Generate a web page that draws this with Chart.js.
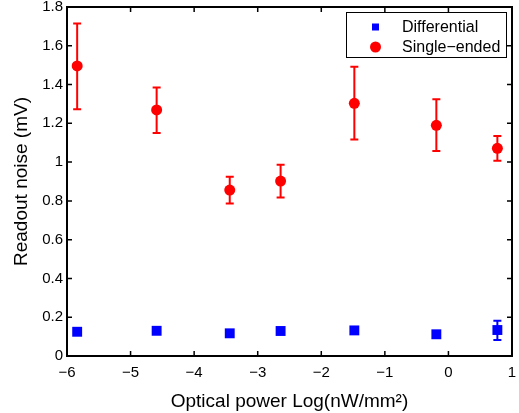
<!DOCTYPE html>
<html>
<head>
<meta charset="utf-8">
<script src="https://cdn.jsdelivr.net/npm/chart.js@4.4.1/dist/chart.umd.min.js"></script>
<style>
  body { margin: 0; background: #fff; }
  #wrap { width: 519px; height: 413px; }
</style>
</head>
<body>
<div id="wrap"><canvas id="myChart" width="519" height="413"></canvas></div>
<script>
// optical power, log(nW/mm^2)
const power = [-5.84, -4.59, -3.44, -2.64, -1.48, -0.19, 0.77];

// readout noise (mV)
const diffNoise = [0.125, 0.130, 0.117, 0.129, 0.132, 0.112, 0.134];
const diffLow   = [0.115, 0.120, 0.107, 0.119, 0.122, 0.102, 0.083];
const diffHigh  = [0.135, 0.140, 0.127, 0.139, 0.142, 0.122, 0.182];

const singleNoise = [1.496, 1.269, 0.856, 0.902, 1.303, 1.190, 1.071];
const singleLow   = [1.272, 1.150, 0.787, 0.818, 1.117, 1.057, 1.007];
const singleHigh  = [1.715, 1.385, 0.925, 0.987, 1.492, 1.324, 1.135];

const xTicks = [-6, -5, -4, -3, -2, -1, 0, 1];
const yTicks = [0, 0.2, 0.4, 0.6, 0.8, 1, 1.2, 1.4, 1.6, 1.8];

const labels = ['Differential', 'Single\u2212ended'];

Chart.defaults.font.family = "'Liberation Sans', Arial, sans-serif";
Chart.defaults.color = '#000';

const toPoints = (xs, ys) => xs.map((x, i) => ({ x: x, y: ys[i] }));
const minus = v => String(v).replace('-', '\u2212');

const errorBars = {
  id: 'errorBars',
  beforeDatasetsDraw(chart) {
    const ctx = chart.ctx;
    const yScale = chart.scales.y;
    chart.data.datasets.forEach((ds, di) => {
      const meta = chart.getDatasetMeta(di);
      ctx.save();
      ctx.strokeStyle = ds.borderColor;
      ctx.lineWidth = 2;
      meta.data.forEach((pt, i) => {
        const yl = yScale.getPixelForValue(ds.errLow[i]);
        const yh = yScale.getPixelForValue(ds.errHigh[i]);
        ctx.beginPath();
        ctx.moveTo(pt.x, yl); ctx.lineTo(pt.x, yh);
        ctx.moveTo(pt.x - 4, yl); ctx.lineTo(pt.x + 4, yl);
        ctx.moveTo(pt.x - 4, yh); ctx.lineTo(pt.x + 4, yh);
        ctx.stroke();
      });
      ctx.restore();
    });
  }
};

const frame = {
  id: 'frame',
  afterDraw(chart) {
    const ctx = chart.ctx;
    const a = chart.chartArea;
    const xs = chart.scales.x, ys = chart.scales.y;
    ctx.save();
    ctx.strokeStyle = '#000';
    ctx.lineWidth = 1.5;
    ctx.beginPath();
    xTicks.forEach(v => {
      const px = xs.getPixelForValue(v);
      ctx.moveTo(px, a.bottom); ctx.lineTo(px, a.bottom - 5);
      ctx.moveTo(px, a.top); ctx.lineTo(px, a.top + 5);
    });
    yTicks.forEach(v => {
      const py = ys.getPixelForValue(v);
      ctx.moveTo(a.left, py); ctx.lineTo(a.left + 5, py);
      ctx.moveTo(a.right, py); ctx.lineTo(a.right - 5, py);
    });
    ctx.stroke();
    ctx.lineWidth = 2;
    ctx.strokeRect(a.left, a.top, a.right - a.left, a.bottom - a.top);

    // legend box
    const bx = a.right - 166, by = a.top + 5.5, bw = 160, bh = 45;
    ctx.fillStyle = '#fff';
    ctx.fillRect(bx, by, bw, bh);
    ctx.lineWidth = 1;
    ctx.strokeRect(bx + 0.5, by, bw, bh);
    ctx.font = "16px 'Liberation Sans', Arial, sans-serif";
    ctx.textBaseline = 'middle';
    ctx.textAlign = 'left';
    const rows = [by + 14.5, by + 34.5];
    ctx.fillStyle = '#0000ff';
    ctx.fillRect(bx + 26, rows[0] - 3.5, 7, 7);
    ctx.fillStyle = '#ff0000';
    ctx.beginPath();
    ctx.arc(bx + 29.5, rows[1], 5.5, 0, Math.PI * 2);
    ctx.fill();
    ctx.fillStyle = '#000';
    labels.forEach((t, i) => ctx.fillText(t, bx + 56, rows[i] + 1));
    ctx.restore();
  }
};

const ctx = document.getElementById('myChart').getContext('2d');
new Chart(ctx, {
  type: 'scatter',
  data: {
    datasets: [{
      label: labels[0],
      data: toPoints(power, diffNoise),
      errLow: diffLow,
      errHigh: diffHigh,
      pointStyle: 'rect',
      pointRadius: 7,
      backgroundColor: '#0000ff',
      borderColor: '#0000ff',
      borderWidth: 0,
    }, {
      label: labels[1],
      data: toPoints(power, singleNoise),
      errLow: singleLow,
      errHigh: singleHigh,
      pointStyle: 'circle',
      pointRadius: 5.5,
      backgroundColor: '#ff0000',
      borderColor: '#ff0000',
      borderWidth: 0,
    }],
  },
  options: {
    responsive: false,
    animation: false,
    devicePixelRatio: 1,
    layout: { padding: { left: 0, top: 7, right: 6, bottom: 0 } },
    plugins: { legend: { display: false }, tooltip: { enabled: false } },
    scales: {
      x: {
        type: 'linear', min: -6, max: 1,
        afterBuildTicks: s => { s.ticks = xTicks.map(v => ({ value: v })); },
        afterFit: s => { s.height = 57; s.paddingLeft = 0; s.paddingRight = 0; },
        grid: { display: false, drawTicks: false },
        border: { display: false },
        ticks: { font: { size: 15 }, padding: 8, maxRotation: 0, callback: v => minus(v) },
        title: { display: true, text: 'Optical power Log(nW/mm\u00B2)', font: { size: 19 }, padding: { top: 3, bottom: 0 } },
      },
      y: {
        type: 'linear', min: 0, max: 1.8,
        afterBuildTicks: s => { s.ticks = yTicks.map(v => ({ value: v })); },
        afterFit: s => { s.width = 67; s.paddingTop = 0; s.paddingBottom = 0; },
        grid: { display: false, drawTicks: false },
        border: { display: false },
        ticks: { font: { size: 15 }, padding: 4, callback: v => String(parseFloat(v.toFixed(1))) },
        title: { display: true, text: 'Readout noise (mV)', font: { size: 19 }, padding: { top: 10, bottom: 0 } },
      },
    },
  },
  plugins: [errorBars, frame],
});
</script>
</body>
</html>
